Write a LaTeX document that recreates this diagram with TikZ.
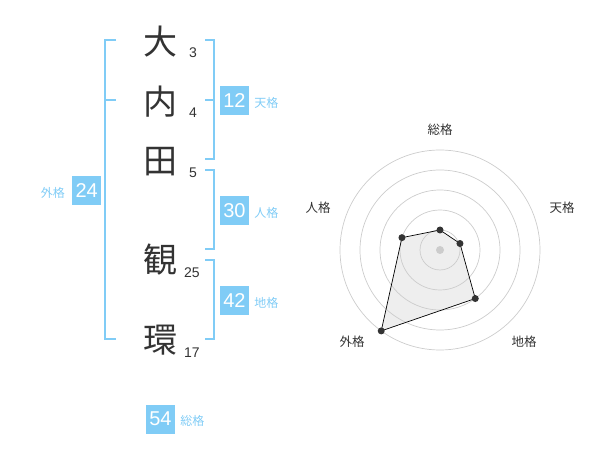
\documentclass[tikz,border=0pt]{standalone}
\usepackage{fontspec}
\setmainfont{Liberation Sans}
\newfontfamily\jp{Noto Sans CJK JP}
\usetikzlibrary{positioning}
\definecolor{col1}{HTML}{80CCF6}
\definecolor{col2}{HTML}{333333}
\definecolor{col3}{HTML}{CCCCCC}
\definecolor{col4}{HTML}{EEEEEE}

\begin{document}
\begin{tikzpicture}[x=1pt, y=-1pt,
  kanji/.style={font=\jp\fontsize{34}{34}\selectfont, text=col2, inner sep=0pt},
  strokes/.style={font=\fontsize{14}{14}\selectfont, text=col2, inner sep=0pt},
  score/.style={fill=col1, text=white, minimum size=29pt, inner sep=0pt,
                font=\fontsize{20}{20}\selectfont},
  kaku/.style={font=\jp\fontsize{12}{12}\selectfont, text=col1, inner sep=0pt},
  brk/.style={col1, line width=2pt},
  axis/.style={font=\jp\fontsize{12.5}{12.5}\selectfont, text=col2, inner sep=0pt},
  ring/.style={col3, line width=0.7pt},
  dot/.style={circle, fill=col2, inner sep=0pt, minimum size=7pt}
]
  \useasboundingbox (0,0) rectangle (600,470);

  % name, one character per row
  \node[kanji] (c1) at (160,42) {大};
  \node[kanji, on grid, below=60pt of c1] (c2) {内};
  \node[kanji, on grid, below=60pt of c2] (c3) {田};
  \node[kanji, on grid, below=98pt of c3] (c4) {観};
  \node[kanji, on grid, below=80pt of c4] (c5) {環};
  \node[strokes] (s1) at ([shift={(33,11)}]c1) {3};
  \node[strokes] (s2) at ([shift={(33,11)}]c2) {4};
  \node[strokes] (s3) at ([shift={(33,11)}]c3) {5};
  \node[strokes] (s4) at ([shift={(32,13)}]c4) {25};
  \node[strokes] (s5) at ([shift={(32,13)}]c5) {17};

  % brackets
  \draw[brk] (116,40) -| (105,339.3) -- (116,339.3);
  \draw[brk] (105,100) -- (116,100);
  \draw[brk] (205,40) -| (214.3,159.3) -- (205,159.3);
  \draw[brk] (205,100) -- (214.3,100);
  \draw[brk] (205,170) -| (214.3,249.3) -- (205,249.3);
  \draw[brk] (205,260) -| (214.3,339.3) -- (205,339.3);

  % scores
  \node[score] (ten) at (234.5,100.3) {12};
  \node[score] (jin) at (234.5,210.5) {30};
  \node[score] (chi) at (234.5,300.5) {42};
  \node[score] (gai) at (86.7,190.5) {24};
  \node[score] (sou) at (160.5,419) {54};
  \node[kaku, right=5pt of ten.base east, anchor=base west] (lten) {天格};
  \node[kaku, right=5pt of jin.base east, anchor=base west] (ljin) {人格};
  \node[kaku, right=5pt of chi.base east, anchor=base west] (lchi) {地格};
  \node[kaku, left=7pt of gai.base west, anchor=base east] (lgai) {外格};
  \node[kaku, right=5pt of sou.base east, anchor=base west] (lsou) {総格};

  % radar chart
  \begin{scope}[shift={(440,250)}, y=1pt]
    \coordinate (p1) at (90:20);
    \coordinate (p2) at (18:21);
    \coordinate (p3) at (-54:60);
    \coordinate (p4) at (-126:100);
    \coordinate (p5) at (162:40);
    \fill[col4] (p1) -- (p2) -- (p3) -- (p4) -- (p5) -- cycle;
    \foreach \r in {20,40,60,80,100}
      \draw[ring] (0,0) circle[radius=\r];
    \fill[col3] (0,0) circle[radius=4];
    \draw[black, line width=0.7pt] (p1) -- (p2) -- (p3) -- (p4) -- (p5) -- cycle;
    \foreach \i in {1,...,5}
      \node[dot] (d\i) at (p\i) {};
    \node[axis] (asou) at (0,120) {総格};
    \node[axis] (aten) at (122,42) {天格};
    \node[axis] (achi) at (84,-92) {地格};
    \node[axis] (agai) at (-88,-92) {外格};
    \node[axis] (ajin) at (-122,42) {人格};
  \end{scope}
\end{tikzpicture}
\end{document}
